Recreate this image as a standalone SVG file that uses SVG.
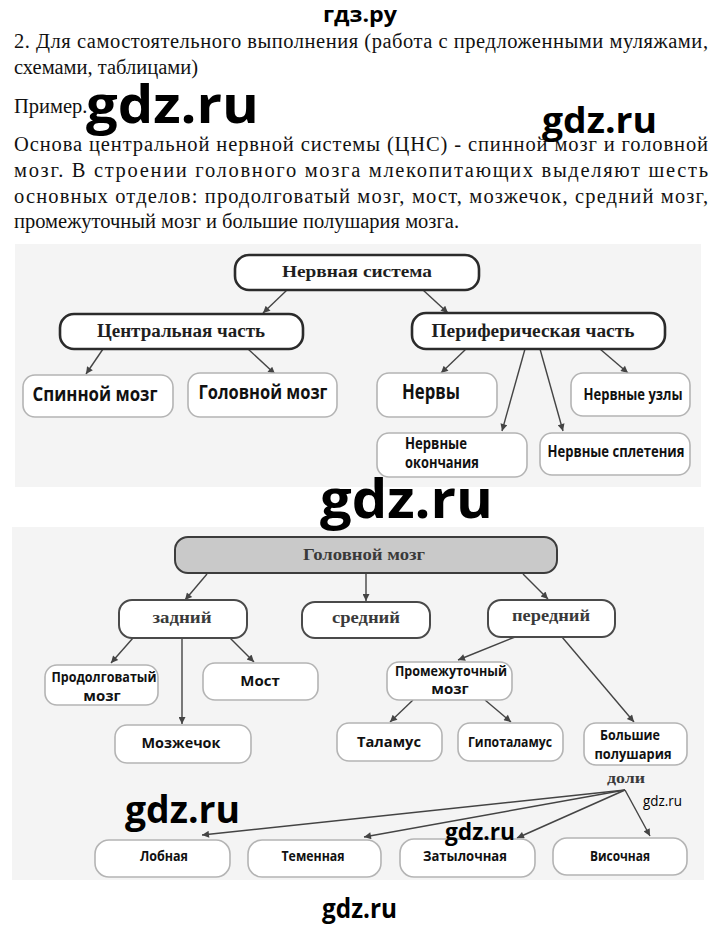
<svg xmlns="http://www.w3.org/2000/svg" width="720" height="929" viewBox="0 0 720 929">
<defs>
<marker id="ah" viewBox="0 0 10 10" refX="10" refY="5" markerWidth="9" markerHeight="7" markerUnits="userSpaceOnUse" orient="auto">
<path d="M0,0 L10,5 L0,10 z" fill="#444"/>
</marker>
<style>
.body{font-family:"Liberation Serif","Times New Roman",serif;font-size:20.5px;fill:#111}
.wm{font-family:"Open Sans","Liberation Sans",sans-serif;font-weight:700;fill:#000}
.strong{fill:#fff;stroke:#2b2b2b;stroke-width:2.6}
.mid{fill:#fff;stroke:#4a4a4a;stroke-width:2}
.light{fill:#fff;stroke:#b4b4b4;stroke-width:1.6}
.gray{fill:#c9c9c9;stroke:#3c3c3c;stroke-width:2}
.ser{font-family:"Liberation Serif","Times New Roman",serif;font-weight:700;fill:#1e1e1e;text-anchor:middle}
.ser2{font-family:"Liberation Serif","Times New Roman",serif;font-weight:700;fill:#3a3a3a;text-anchor:middle;font-size:16px}
.sans{font-family:"Open Sans","Liberation Sans",sans-serif;font-weight:700;fill:#111;text-anchor:middle}
.conn line{stroke:#444;stroke-width:1.4;marker-end:url(#ah)}
.panel{fill:#f4f4f4}
</style>
</defs>
<rect width="720" height="929" fill="#fff"/>

<!-- heading and text -->
<text class="wm" x="360" y="22" font-size="22" text-anchor="middle" textLength="74" lengthAdjust="spacingAndGlyphs">гдз.ру</text>
<text class="body" x="14" y="48" textLength="694" lengthAdjust="spacing">2. Для самостоятельного выполнения (работа с предложенными муляжами,</text>
<text class="body" x="14" y="74">схемами, таблицами)</text>
<text class="body" x="14" y="113">Пример.</text>
<text class="wm" x="86" y="123" font-size="52" textLength="173" lengthAdjust="spacingAndGlyphs">gdz.ru</text>
<text class="wm" x="542" y="133" font-size="36" textLength="115" lengthAdjust="spacingAndGlyphs">gdz.ru</text>
<text class="body" x="14" y="151" textLength="694" lengthAdjust="spacing">Основа центральной нервной системы (ЦНС) - спинной мозг и головной</text>
<text class="body" x="14" y="177" textLength="694" lengthAdjust="spacing">мозг. В строении головного мозга млекопитающих выделяют шесть</text>
<text class="body" x="14" y="203" textLength="694" lengthAdjust="spacing">основных отделов: продолговатый мозг, мост, мозжечок, средний мозг,</text>
<text class="body" x="14" y="228">промежуточный мозг и большие полушария мозга.</text>

<!-- panels -->
<rect class="panel" x="15" y="244" width="686" height="243"/>
<rect class="panel" x="12" y="527" width="692" height="353"/>

<!-- connectors -->
<g id="connectors" class="conn">
<line x1="287" y1="290" x2="263" y2="313"/>
<line x1="423" y1="290" x2="448" y2="313"/>
<line x1="103" y1="349" x2="86" y2="374"/>
<line x1="248" y1="349" x2="275" y2="374"/>
<line x1="466" y1="349" x2="441" y2="373"/>
<line x1="525" y1="349" x2="502" y2="431"/>
<line x1="540" y1="349" x2="563" y2="431"/>
<line x1="600" y1="349" x2="628" y2="373"/>
<line x1="207" y1="574" x2="185" y2="600"/>
<line x1="366" y1="574" x2="366" y2="601"/>
<line x1="523" y1="574" x2="548" y2="599"/>
<line x1="133" y1="638" x2="111" y2="663"/>
<line x1="182" y1="638" x2="182" y2="724"/>
<line x1="230" y1="638" x2="254" y2="662"/>
<line x1="515" y1="637" x2="458" y2="660"/>
<line x1="562" y1="637" x2="634" y2="722"/>
<line x1="413" y1="700" x2="390" y2="722"/>
<line x1="485" y1="700" x2="511" y2="722"/>
<line x1="625" y1="790" x2="202" y2="835"/>
<line x1="625" y1="790" x2="364" y2="837"/>
<line x1="625" y1="790" x2="517" y2="838"/>
<line x1="625" y1="790" x2="650" y2="836"/>
</g>

<!-- diagram 1 -->
<g id="n-nervous-system"><rect class="strong" x="235" y="255" width="244" height="35" rx="14"/><text class="ser" x="357" y="277" font-size="17" textLength="150" lengthAdjust="spacingAndGlyphs">Нервная система</text></g>
<g id="n-central"><rect class="strong" x="60" y="314" width="243" height="35" rx="14"/><text class="ser" x="181" y="337" font-size="18" textLength="168" lengthAdjust="spacingAndGlyphs">Центральная часть</text></g>
<g id="n-peripheral"><rect class="strong" x="412" y="313" width="253" height="36" rx="14"/><text class="ser" x="533" y="337" font-size="18" textLength="203" lengthAdjust="spacingAndGlyphs">Периферическая часть</text></g>
<g id="n-spinal"><rect class="light" x="23" y="375" width="150" height="42" rx="12"/><text class="sans" x="95" y="401" font-size="20" textLength="125" lengthAdjust="spacingAndGlyphs">Спинной мозг</text></g>
<g id="n-brain-1"><rect class="light" x="188" y="373" width="149" height="44" rx="12"/><text class="sans" x="263" y="399" font-size="20" textLength="129" lengthAdjust="spacingAndGlyphs">Головной мозг</text></g>
<g id="n-nerves"><rect class="light" x="377" y="373" width="120" height="44" rx="12"/><text class="sans" x="431" y="399" font-size="21" textLength="58" lengthAdjust="spacingAndGlyphs">Нервы</text></g>
<g id="n-ganglia"><rect class="light" x="571" y="373" width="119" height="43" rx="12"/><text class="sans" x="633" y="400" font-size="15.5" textLength="99" lengthAdjust="spacingAndGlyphs">Нервные узлы</text></g>
<g id="n-endings"><rect class="light" x="377" y="433" width="150" height="44" rx="12"/><text class="sans" x="405" y="449" font-size="15.5" style="text-anchor:start" textLength="62" lengthAdjust="spacingAndGlyphs">Нервные</text><text class="sans" x="405" y="468" font-size="15.5" style="text-anchor:start" textLength="74" lengthAdjust="spacingAndGlyphs">окончания</text></g>
<g id="n-plexus"><rect class="light" x="540" y="433" width="150" height="42" rx="12"/><text class="sans" x="616" y="457" font-size="15.5" textLength="137" lengthAdjust="spacingAndGlyphs">Нервные сплетения</text></g>

<text class="wm" x="320" y="518" font-size="54" textLength="173" lengthAdjust="spacingAndGlyphs">gdz.ru</text>

<!-- diagram 2 -->
<g id="n-brain"><rect class="gray" x="175" y="537" width="382" height="36" rx="13"/><text class="ser2" x="364" y="560" textLength="122" lengthAdjust="spacingAndGlyphs">Головной мозг</text></g>
<g id="n-hind"><rect class="mid" x="119" y="600" width="128" height="38" rx="13"/><text class="ser2" x="182" y="623" textLength="59" lengthAdjust="spacingAndGlyphs">задний</text></g>
<g id="n-middle"><rect class="mid" x="302" y="602" width="128" height="36" rx="13"/><text class="ser2" x="366" y="623" textLength="68" lengthAdjust="spacingAndGlyphs">средний</text></g>
<g id="n-fore"><rect class="mid" x="488" y="600" width="127" height="37" rx="13"/><text class="ser2" x="551" y="621" textLength="78" lengthAdjust="spacingAndGlyphs">передний</text></g>
<g id="n-medulla"><rect class="light" x="45" y="665" width="113" height="40" rx="12"/><text class="sans" x="104" y="682" font-size="15" textLength="105" lengthAdjust="spacingAndGlyphs">Продолговатый</text><text class="sans" x="102" y="701" font-size="15">мозг</text></g>
<g id="n-pons"><rect class="light" x="203" y="663" width="115" height="37" rx="12"/><text class="sans" x="260" y="686" font-size="15">Мост</text></g>
<g id="n-cerebellum"><rect class="light" x="115" y="725" width="136" height="38" rx="12"/><text class="sans" x="181" y="748" font-size="15" textLength="79" lengthAdjust="spacingAndGlyphs">Мозжечок</text></g>
<g id="n-diencephalon"><rect class="light" x="387" y="662" width="125" height="38" rx="12"/><text class="sans" x="451" y="676" font-size="15" textLength="112" lengthAdjust="spacingAndGlyphs">Промежуточный</text><text class="sans" x="450" y="694" font-size="15">мозг</text></g>
<g id="n-thalamus"><rect class="light" x="337" y="723" width="105" height="38" rx="12"/><text class="sans" x="389" y="747" font-size="15" textLength="64" lengthAdjust="spacingAndGlyphs">Таламус</text></g>
<g id="n-hypothalamus"><rect class="light" x="458" y="723" width="105" height="38" rx="12"/><text class="sans" x="510" y="747" font-size="15" textLength="84" lengthAdjust="spacingAndGlyphs">Гипоталамус</text></g>
<g id="n-hemispheres"><rect class="light" x="584" y="723" width="103" height="42" rx="12"/><text class="sans" x="630" y="740" font-size="15" textLength="60" lengthAdjust="spacingAndGlyphs">Большие</text><text class="sans" x="633" y="759" font-size="15" textLength="77" lengthAdjust="spacingAndGlyphs">полушария</text></g>
<g id="n-lobes"><text class="ser2" x="626" y="783" style="font-size:15px" textLength="38" lengthAdjust="spacingAndGlyphs">доли</text></g>
<g id="n-frontal"><rect class="light" x="95" y="840" width="135" height="37" rx="14"/><text class="sans" x="164" y="861" font-size="15" textLength="48" lengthAdjust="spacingAndGlyphs">Лобная</text></g>
<g id="n-parietal"><rect class="light" x="248" y="840" width="133" height="37" rx="14"/><text class="sans" x="313" y="861" font-size="15" textLength="63" lengthAdjust="spacingAndGlyphs">Теменная</text></g>
<g id="n-occipital"><rect class="light" x="400" y="839" width="135" height="38" rx="14"/><text class="sans" x="465" y="861" font-size="15" textLength="84" lengthAdjust="spacingAndGlyphs">Затылочная</text></g>
<g id="n-temporal"><rect class="light" x="553" y="838" width="134" height="37" rx="14"/><text class="sans" x="620" y="861" font-size="15" textLength="60" lengthAdjust="spacingAndGlyphs">Височная</text></g>

<!-- watermarks -->
<text class="wm" x="125" y="823" font-size="37" textLength="115" lengthAdjust="spacingAndGlyphs">gdz.ru</text>
<text class="wm" x="445" y="840" font-size="24" textLength="70" lengthAdjust="spacingAndGlyphs">gdz.ru</text>
<text x="643" y="806" font-family="Open Sans, Liberation Sans, sans-serif" font-size="14" fill="#000" textLength="39" lengthAdjust="spacingAndGlyphs">gdz.ru</text>
<text class="wm" x="322" y="918" font-size="26" font-weight="600" textLength="75" lengthAdjust="spacingAndGlyphs">gdz.ru</text>
</svg>
